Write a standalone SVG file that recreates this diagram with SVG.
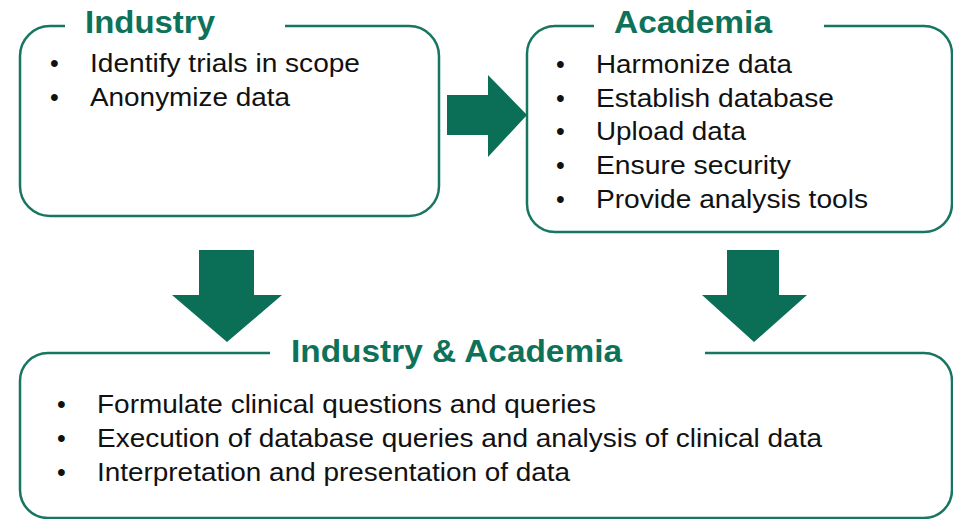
<svg xmlns="http://www.w3.org/2000/svg" width="953" height="519" viewBox="0 0 953 519">
  <style>
    .frame { fill: none; stroke: #17765f; stroke-width: 2.5; }
    .title { font-family: "Liberation Sans", Arial, sans-serif; font-weight: bold; font-size: 31px; fill: #0d7259; }
    .item { font-family: "Liberation Sans", Arial, sans-serif; font-size: 25px; fill: #111; }
    .arrow { fill: #0b6f58; }
  </style>
  <rect width="953" height="519" fill="#fff"/>

  <g id="industry">
    <path class="frame" d="M65,26 H50 A30,30 0 0 0 20,56 V186 A30,30 0 0 0 50,216 H409 A30,30 0 0 0 439,186 V56 A30,30 0 0 0 409,26 H285"/>
    <text class="title" x="85" y="33" textLength="130" lengthAdjust="spacingAndGlyphs">Industry</text>
    <text class="item" x="50" y="72">•</text>
    <text class="item" x="90" y="72" textLength="270" lengthAdjust="spacingAndGlyphs">Identify trials in scope</text>
    <text class="item" x="50" y="106">•</text>
    <text class="item" x="90" y="106" textLength="200" lengthAdjust="spacingAndGlyphs">Anonymize  data</text>
  </g>

  <g id="academia">
    <path class="frame" d="M594,26 H555 A28,28 0 0 0 527,54 V204 A28,28 0 0 0 555,232 H924 A28,28 0 0 0 952,204 V54 A28,28 0 0 0 924,26 H824"/>
    <text class="title" x="614" y="33" textLength="158" lengthAdjust="spacingAndGlyphs">Academia</text>
    <text class="item" x="556" y="73">•</text>
    <text class="item" x="596" y="73" textLength="196" lengthAdjust="spacingAndGlyphs">Harmonize  data</text>
    <text class="item" x="556" y="107">•</text>
    <text class="item" x="596" y="107" textLength="238" lengthAdjust="spacingAndGlyphs">Establish database</text>
    <text class="item" x="556" y="140">•</text>
    <text class="item" x="596" y="140" textLength="150" lengthAdjust="spacingAndGlyphs">Upload  data</text>
    <text class="item" x="556" y="174">•</text>
    <text class="item" x="596" y="174" textLength="195" lengthAdjust="spacingAndGlyphs">Ensure security</text>
    <text class="item" x="556" y="208">•</text>
    <text class="item" x="596" y="208" textLength="272" lengthAdjust="spacingAndGlyphs">Provide analysis tools</text>
  </g>

  <g id="joint">
    <path class="frame" d="M270,353 H48 A28,28 0 0 0 20,381 V490 A28,28 0 0 0 48,518 H924 A28,28 0 0 0 952,490 V381 A28,28 0 0 0 924,353 H705"/>
    <text class="title" x="291" y="362" textLength="331" lengthAdjust="spacingAndGlyphs">Industry &amp; Academia</text>
    <text class="item" x="57" y="413">•</text>
    <text class="item" x="97" y="413" textLength="499" lengthAdjust="spacingAndGlyphs">Formulate clinical questions and queries</text>
    <text class="item" x="57" y="447">•</text>
    <text class="item" x="97" y="447" textLength="725" lengthAdjust="spacingAndGlyphs">Execution of database queries and analysis of clinical data</text>
    <text class="item" x="57" y="481">•</text>
    <text class="item" x="97" y="481" textLength="473" lengthAdjust="spacingAndGlyphs">Interpretation and presentation of data</text>
  </g>

  <g id="connectors">
    <polygon class="arrow" points="447,95 488,95 488,75 527,115 488,157 488,135 447,135"/>
    <polygon class="arrow" points="199,250 254,250 254,295 282,295 227,342 172,295 199,295"/>
    <polygon class="arrow" points="727,250 779,250 779,295 807,295 754,342 702,295 727,295"/>
  </g>
</svg>
